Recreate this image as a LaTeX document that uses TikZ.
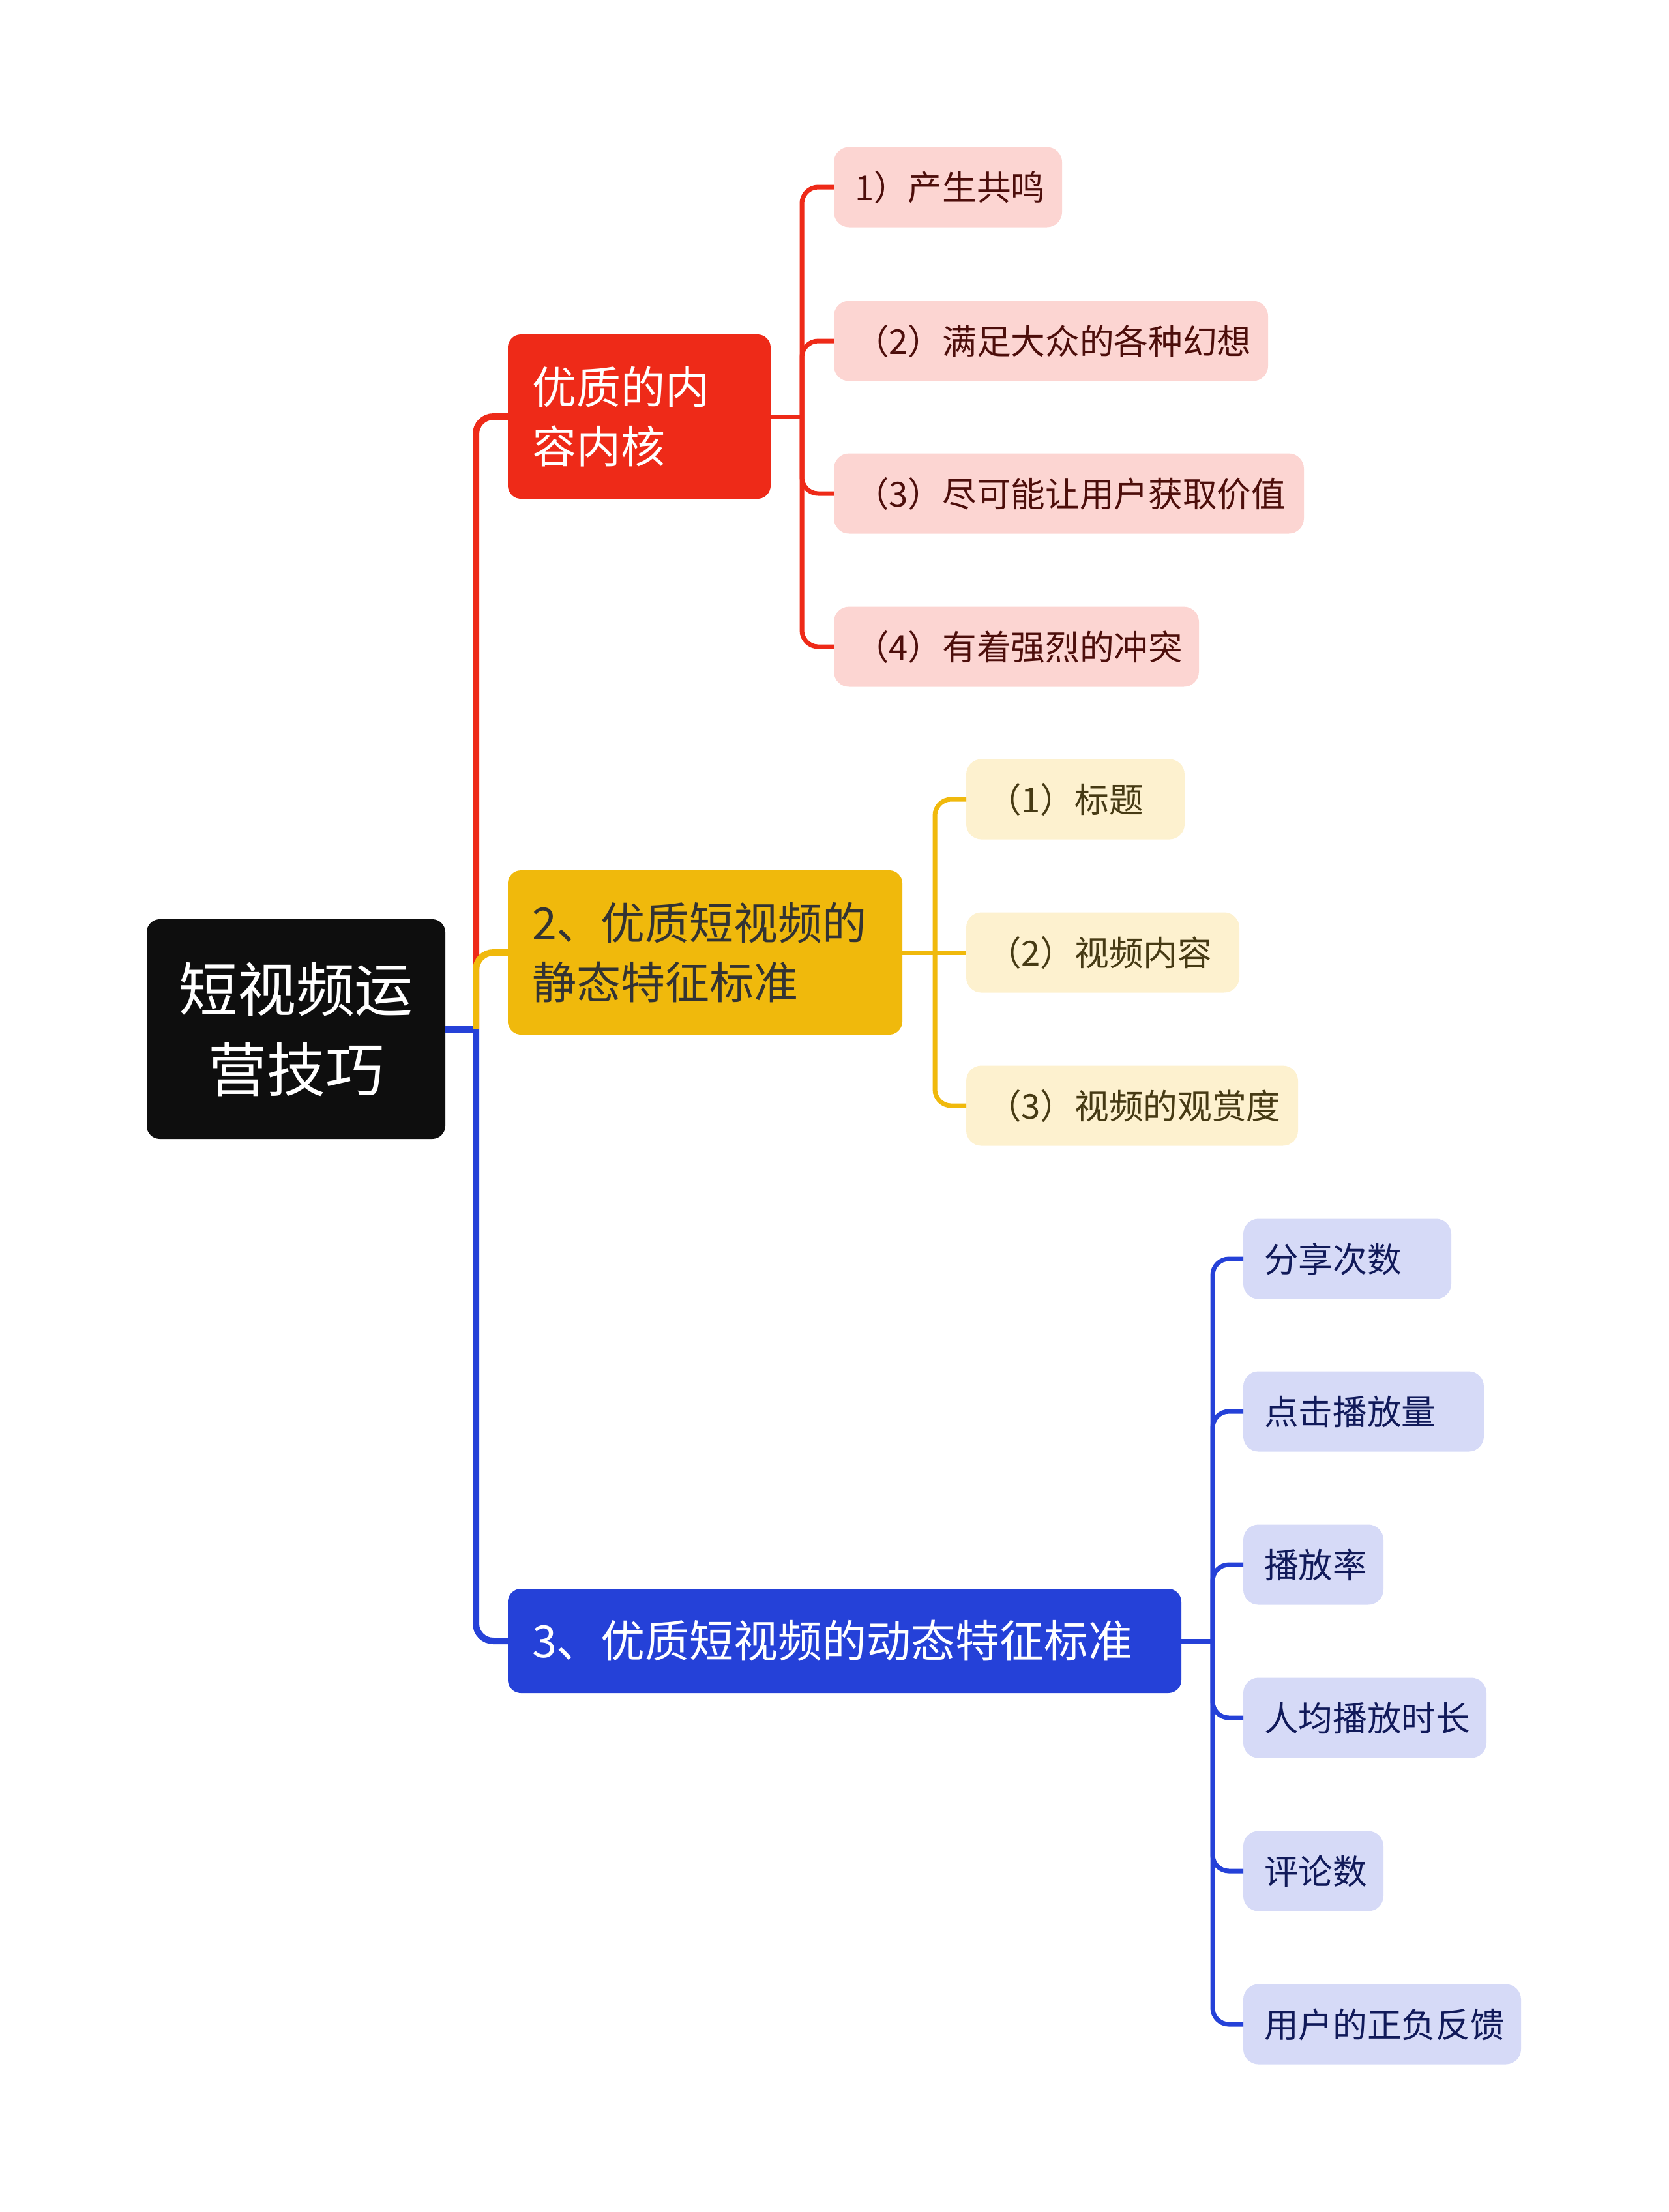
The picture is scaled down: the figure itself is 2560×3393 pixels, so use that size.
\documentclass[tikz,border=0pt]{standalone}
\usepackage{fontspec}
\setmainfont{Noto Sans CJK SC}
\definecolor{rootc}{HTML}{0E0E0E}
\definecolor{redc}{HTML}{EE2A18}
\definecolor{rfill}{HTML}{FCD5D2}
\definecolor{rtext}{HTML}{4D0E0B}
\definecolor{yelc}{HTML}{F0B90C}
\definecolor{yfill}{HTML}{FDF1CF}
\definecolor{ytext}{HTML}{463A14}
\definecolor{ymaintext}{HTML}{333333}
\definecolor{bluec}{HTML}{2541D8}
\definecolor{bfill}{HTML}{D6DAF7}
\definecolor{btext}{HTML}{111A5A}
\begin{document}
\begin{tikzpicture}[x=0.3pt,y=-0.3pt,
  base/.style={inner ysep=0pt, outer sep=0pt},
  rootbox/.style={base, fill=rootc, text=white, rounded corners=6pt,
    minimum width=137.4pt, minimum height=101.1pt, align=center,
    font=\fontsize{27}{36.9}\selectfont},
  mainbox/.style={base, rounded corners=6pt, anchor=west, inner xsep=11.1pt,
    align=left, font=\fontsize{20.4}{27.3}\selectfont},
  leaf/.style={base, rounded corners=7pt, anchor=west, inner xsep=9.6pt,
    minimum height=36.9pt, font=\fontsize{15.8}{20}\selectfont},
  rleaf/.style={leaf, fill=rfill, text=rtext},
  yleaf/.style={leaf, fill=yfill, text=ytext},
  bleaf/.style={leaf, fill=bfill, text=btext},
  trunk/.style={line width=3pt, rounded corners=8pt},
  twig/.style={line width=2.1pt, rounded corners=7.5pt},
]
\useasboundingbox (0,0) rectangle (2560,3393);

% nodes
\node[rootbox] (root) at (454,1578.5) {短视频运\\营技巧};
\node[mainbox, fill=redc, text=white, text width=98.7pt, minimum height=75.6pt] (red) at (779,639) {优质的内\\容内核};
\node[mainbox, fill=yelc, text=ymaintext, text width=159.3pt, minimum height=75.6pt] (yel) at (779,1461) {2、优质短视频的\\静态特征标准};
\node[mainbox, fill=bluec, text=white, text width=287.7pt, minimum height=48pt] (blue) at (779,2517) {3、优质短视频的动态特征标准};

\node[rleaf] (r1) at (1279,287) {\makebox[85.8pt][l]{1）产生共鸣}};
\node[rleaf] (r2) at (1279,523) {\makebox[180.6pt][l]{（2）满足大众的各种幻想}};
\node[rleaf] (r3) at (1279,757) {\makebox[197.1pt][l]{（3）尽可能让用户获取价值}};
\node[rleaf] (r4) at (1279,992) {\makebox[148.8pt][l]{（4）有着强烈的冲突}};

\node[yleaf] (y1) at (1482,1226) {\makebox[81.3pt][l]{（1）标题}};
\node[yleaf] (y2) at (1482,1461) {\makebox[106.5pt][l]{（2）视频内容}};
\node[yleaf] (y3) at (1482,1696) {\makebox[133.5pt][l]{（3）视频的观赏度}};

\node[bleaf] (b1) at (1907,1931) {\makebox[76.5pt][l]{分享次数}};
\node[bleaf] (b2) at (1907,2165) {\makebox[91.5pt][l]{点击播放量}};
\node[bleaf] (b3) at (1907,2400) {\makebox[45.3pt][l]{播放率}};
\node[bleaf] (b4) at (1907,2635) {\makebox[92.7pt][l]{人均播放时长}};
\node[bleaf] (b5) at (1907,2870) {\makebox[45.3pt][l]{评论数}};
\node[bleaf] (b6) at (1907,3105) {\makebox[108.6pt][l]{用户的正负反馈}};

% junctions
\coordinate (rootj) at (730,1578.5);
\coordinate (rj) at (1230,639);
\coordinate (yj) at (1434,1461);
\coordinate (bj) at (1860,2517);

% main connectors
\draw[trunk, redc] (rootj) |- (red.west);
\draw[trunk, bluec] (rootj) |- (blue.west);
\draw[trunk, bluec] (root.east) -- (rootj);
\draw[trunk, yelc] (rootj) |- (yel.west);

% red twigs
\draw[twig, redc] (red.east) -- (rj);
\draw[twig, redc] (rj) |- (r1.west);
\draw[twig, redc] (rj) |- (r2.west);
\draw[twig, redc] (rj) |- (r3.west);
\draw[twig, redc] (rj) |- (r4.west);

% yellow twigs
\draw[twig, yelc] (yel.east) -- (yj);
\draw[twig, yelc] (yj) |- (y1.west);
\draw[twig, yelc] (yj) -- (y2.west);
\draw[twig, yelc] (yj) |- (y3.west);

% blue twigs
\draw[twig, bluec] (blue.east) -- (bj);
\draw[twig, bluec] (bj) |- (b1.west);
\draw[twig, bluec] (bj) |- (b2.west);
\draw[twig, bluec] (bj) |- (b3.west);
\draw[twig, bluec] (bj) |- (b4.west);
\draw[twig, bluec] (bj) |- (b5.west);
\draw[twig, bluec] (bj) |- (b6.west);
\end{tikzpicture}
\end{document}
